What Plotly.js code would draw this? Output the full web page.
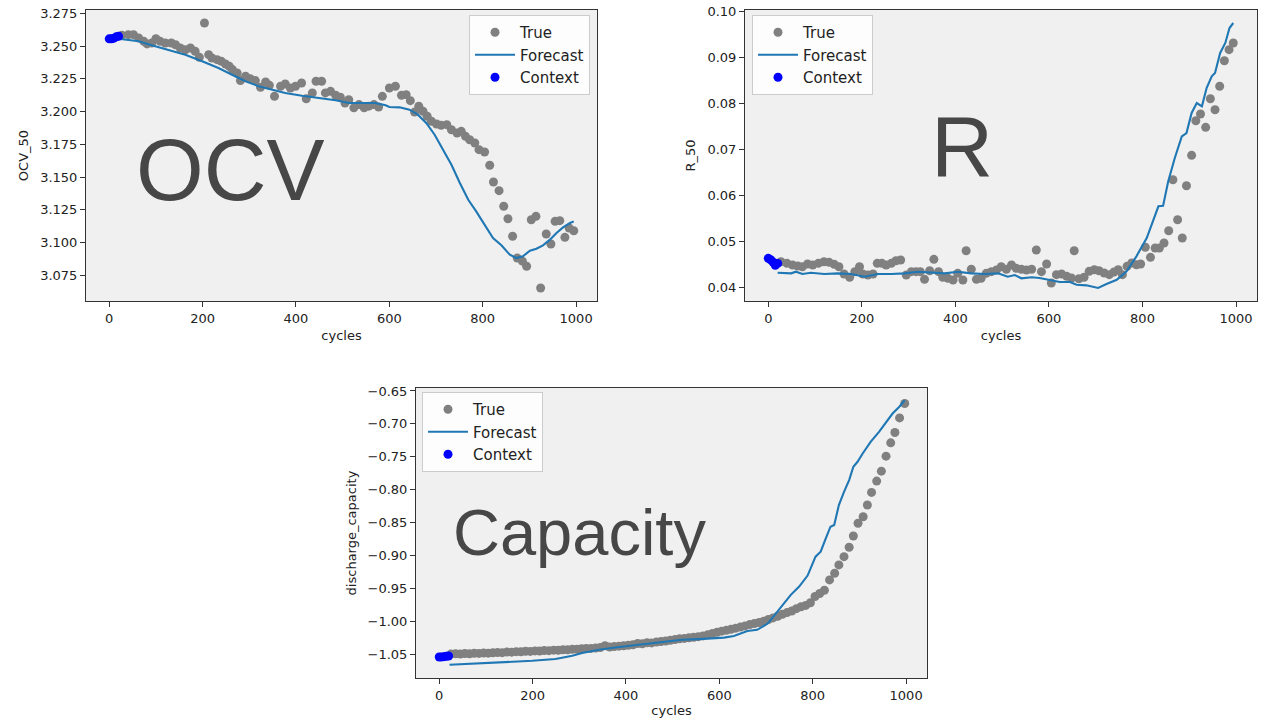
<!DOCTYPE html>
<html>
<head>
<meta charset="utf-8">
<script src="https://cdn.plot.ly/plotly-3.0.1.min.js"></script>
<style>html,body{margin:0;padding:0;background:#fff;}#chart{width:1266px;height:718px;}</style>
</head>
<body>
<div id="chart"></div>
<script>
// ---------- OCV ----------
const ocvTrueX = [27,41,52,63,74,81,91,100,109,120,133,142,152,163,174,184,193,204,213,220,231,240,249,257,264,274,281,292,302,313,324,335,343,354,367,377,388,399,412,422,435,443,455,463,474,485,495,505,513,524,535,546,556,567,577,585,600,613,626,636,645,654,663,672,681,690,701,711,723,733,745,754,763,772,783,792,804,815,823,835,845,854,864,874,885,894,904,914,924,936,946,955,965,976,985,995];
const ocvTrueY = [3.2582,3.2587,3.2587,3.2561,3.2536,3.2516,3.2523,3.2556,3.2536,3.2523,3.2523,3.2510,3.2485,3.2472,3.2485,3.2460,3.2414,3.2676,3.2434,3.2409,3.2396,3.2384,3.2363,3.2346,3.2320,3.2294,3.2236,3.2269,3.2251,3.2236,3.2185,3.2226,3.2200,3.2116,3.2193,3.2210,3.2180,3.2193,3.2218,3.2098,3.2142,3.2231,3.2231,3.2142,3.2154,3.2124,3.2109,3.2065,3.2090,3.2028,3.2053,3.2028,3.2041,3.2053,3.2035,3.2116,3.2180,3.2193,3.2124,3.2129,3.2083,3.1996,3.2041,3.2002,3.1964,3.1926,3.1905,3.1895,3.1900,3.1861,3.1836,3.1849,3.1811,3.1785,3.1760,3.1709,3.1691,3.1590,3.1462,3.1396,3.1277,3.1182,3.1048,3.0882,3.0858,3.0819,3.1174,3.1200,3.0653,3.1065,3.0989,3.1162,3.1167,3.1040,3.1111,3.1090];
const ocvFcX = [20,41,63,91,127,163,199,234,263,292,320,349,377,413,449,485,513,542,570,592,600,622,643,661,679,697,715,733,751,769,786,804,822,840,858,872,886,901,915,929,944,958,972,987,995];
const ocvFcY = [3.2556,3.2544,3.2536,3.2506,3.2472,3.2434,3.2384,3.2332,3.2281,3.2231,3.2193,3.2167,3.2142,3.2121,3.2103,3.2086,3.2065,3.2065,3.2065,3.2048,3.2035,3.2032,3.2014,3.1976,3.1913,3.1823,3.1709,3.1594,3.1455,3.1327,3.1238,3.1136,3.1035,3.0979,3.0907,3.0882,3.0895,3.0938,3.0953,3.0979,3.1022,3.1073,3.1116,3.1149,3.1162];
const ocvCtxX = [0,5,10,15,20];
const ocvCtxY = [3.2555,3.2555,3.2560,3.2570,3.2575];

// ---------- R ----------
const rTrueX = [27,40,52,63,73,84,95,107,119,130,141,151,162,174,185,195,202,213,224,233,243,252,263,273,283,295,306,316,325,334,345,354,364,373,384,395,405,416,423,434,445,455,466,477,488,498,509,520,530,541,552,563,573,584,595,605,616,627,638,648,654,664,675,686,697,707,718,729,739,748,757,767,777,787,796,806,817,827,836,846,856,865,875,885,894,905,914,924,935,945,955,965,975,985,994];
const rTrueY = [0.04557,0.04522,0.04485,0.04463,0.04448,0.04507,0.04485,0.04522,0.04557,0.04544,0.04500,0.04448,0.04289,0.04218,0.04340,0.04448,0.04289,0.04267,0.04289,0.04522,0.04522,0.04485,0.04522,0.04579,0.04594,0.04267,0.04340,0.04340,0.04340,0.04174,0.04361,0.04609,0.04340,0.04218,0.04196,0.04159,0.04304,0.04159,0.04797,0.04392,0.04174,0.04196,0.04304,0.04340,0.04376,0.04448,0.04392,0.04485,0.04413,0.04392,0.04376,0.04392,0.04812,0.04340,0.04507,0.04093,0.04275,0.04289,0.04239,0.04202,0.04797,0.04187,0.04218,0.04348,0.04383,0.04361,0.04311,0.04275,0.04333,0.04383,0.04275,0.04457,0.04529,0.04492,0.04507,0.04871,0.04653,0.04855,0.04855,0.04964,0.05232,0.06342,0.05471,0.05073,0.06212,0.06873,0.07627,0.07773,0.07483,0.08106,0.07866,0.08376,0.08933,0.09173,0.09319];
const rFcX = [20,49,59,73,91,120,148,177,206,234,263,291,320,348,377,405,434,463,491,512,527,541,563,580,602,623,645,659,680,705,723,745,766,787,809,823,834,844,855,869,884,894,905,916,927,937,948,955,966,977,986,994];
const rFcY = [0.04318,0.04304,0.04340,0.04289,0.04318,0.04289,0.04304,0.04289,0.04230,0.04289,0.04289,0.04304,0.04340,0.04318,0.04304,0.04340,0.04304,0.04289,0.04304,0.04230,0.04267,0.04196,0.04218,0.04202,0.04165,0.04116,0.04116,0.04056,0.04043,0.03985,0.04071,0.04165,0.04348,0.04674,0.05073,0.05437,0.05763,0.05776,0.06308,0.06815,0.07287,0.07359,0.07795,0.08012,0.07940,0.08339,0.08594,0.08665,0.09101,0.09319,0.09645,0.09754];
const rCtxX = [0,5,10,15,20];
const rCtxY = [0.0463,0.0460,0.0455,0.0448,0.0452];

// ---------- Capacity ----------
const capTrueX = [25,35,45,55,65,75,85,95,105,115,125,135,145,155,165,175,185,195,205,215,225,235,245,255,265,275,285,295,305,315,325,335,345,355,365,375,385,395,405,415,425,435,445,455,465,475,485,495,505,515,525,535,545,555,565,575,585,595,605,615,625,635,645,655,665,675,685,695,705,715,725,735,745,755,765,775,785,795,805,815,825,836,847,856,867,878,887,897,908,917,926,937,947,957,967,976,986,997];
const capTrueY = [-1.0500,-1.0496,-1.0499,-1.0492,-1.0495,-1.0488,-1.0490,-1.0484,-1.0486,-1.0480,-1.0478,-1.0479,-1.0470,-1.0471,-1.0464,-1.0466,-1.0458,-1.0460,-1.0452,-1.0454,-1.0446,-1.0448,-1.0441,-1.0442,-1.0434,-1.0436,-1.0427,-1.0428,-1.0420,-1.0416,-1.0414,-1.0408,-1.0400,-1.0372,-1.0392,-1.0386,-1.0380,-1.0374,-1.0366,-1.0358,-1.0340,-1.0345,-1.0328,-1.0330,-1.0318,-1.0310,-1.0302,-1.0290,-1.0280,-1.0268,-1.0262,-1.0252,-1.0244,-1.0236,-1.0224,-1.0208,-1.0188,-1.0168,-1.0152,-1.0138,-1.0122,-1.0106,-1.0090,-1.0072,-1.0052,-1.0036,-1.0020,-1.0000,-0.9975,-0.9950,-0.9925,-0.9895,-0.9870,-0.9845,-0.9810,-0.9780,-0.9760,-0.9720,-0.9625,-0.9580,-0.9530,-0.9373,-0.9271,-0.9145,-0.9019,-0.8876,-0.8705,-0.8512,-0.8412,-0.8234,-0.8042,-0.7870,-0.7719,-0.7491,-0.7289,-0.7131,-0.6910,-0.6691];
const capFcX = [22,56,127,199,249,285,306,342,377,413,449,485,520,556,585,610,631,660,681,703,717,735,753,771,789,806,817,828,838,846,856,867,878,887,896,907,924,942,957,971,985,997];
const capFcY = [-1.0663,-1.0652,-1.0627,-1.0602,-1.0576,-1.0526,-1.0485,-1.0435,-1.0400,-1.0370,-1.0333,-1.0309,-1.0283,-1.0273,-1.0262,-1.0250,-1.0225,-1.0150,-1.0131,-1.0040,-0.9920,-0.9752,-0.9600,-0.9474,-0.9307,-0.9019,-0.8943,-0.8740,-0.8564,-0.8538,-0.8234,-0.8033,-0.7855,-0.7653,-0.7577,-0.7450,-0.7274,-0.7122,-0.6970,-0.6843,-0.6743,-0.6641];
const capCtxX = [0,5,10,15,20];
const capCtxY = [-1.0545,-1.0543,-1.0540,-1.0535,-1.0530];

const xTicks = [0,200,400,600,800,1000];
const panelNames = ['OCV','R','Capacity'];
const yTitles = ['OCV_50','R_50','discharge_capacity'];

// ---------- styles ----------
const W = 1266, H = 718;
const GRAY = '#808080', BLUE_LINE = '#1f77b4', CTX = '#0000ff';
const sets = [
  [ocvTrueX, ocvTrueY, ocvFcX, ocvFcY, ocvCtxX, ocvCtxY],
  [rTrueX, rTrueY, rFcX, rFcY, rCtxX, rCtxY],
  [capTrueX, capTrueY, capFcX, capFcY, capCtxX, capCtxY]
];
const traces = [];
sets.forEach((s, i) => {
  const xa = i === 0 ? 'x' : 'x' + (i + 1);
  const ya = i === 0 ? 'y' : 'y' + (i + 1);
  const lg = i === 0 ? 'legend' : 'legend' + (i + 1);
  traces.push({x: s[0], y: s[1], type: 'scatter', mode: 'markers', name: 'True', xaxis: xa, yaxis: ya, legend: lg,
    marker: {color: GRAY, size: 9}});
  traces.push({x: s[2], y: s[3], type: 'scatter', mode: 'lines', name: 'Forecast', xaxis: xa, yaxis: ya, legend: lg,
    line: {color: BLUE_LINE, width: 2.1}});
  traces.push({x: s[4], y: s[5], type: 'scatter', mode: 'markers', name: 'Context', xaxis: xa, yaxis: ya, legend: lg,
    marker: {color: CTX, size: 9}});
});

function px2x(p) { return p / W; }
function px2y(p) { return 1 - p / H; }

const axBase = {
  showline: true, mirror: true, linecolor: '#333', linewidth: 1,
  ticks: 'outside', ticklen: 5, tickwidth: 1, tickcolor: '#333',
  showgrid: false, zeroline: false,
  tickfont: {family: 'DejaVu Sans', size: 13, color: '#222'}
};
function xax(d0, d1, anchor) {
  return Object.assign({}, axBase, {domain: [px2x(d0), px2x(d1)], anchor: anchor, range: [-49.75, 1044.75],
    tickvals: xTicks, ticktext: xTicks.map(String),
    title: {text: 'cycles', font: {family: 'DejaVu Sans', size: 13, color: '#222'}, standoff: 6}});
}
function yax(top, bot, anchor, range, dtick, tick0, fmt, title) {
  return Object.assign({}, axBase, {domain: [px2y(bot), px2y(top)], anchor: anchor, range: range,
    dtick: dtick, tick0: tick0, tickformat: fmt,
    title: {text: title, font: {family: 'DejaVu Sans', size: 13, color: '#222'}, standoff: 8}});
}
const legBase = {bgcolor: 'rgba(255,255,255,0.85)', bordercolor: '#cccccc', borderwidth: 1,
  font: {family: 'DejaVu Sans', size: 15, color: '#222'}, yanchor: 'top', tracegroupgap: 0, itemwidth: 40};

const bigFont = (s) => ({family: 'Liberation Sans, Arial, sans-serif', size: s, color: '#474747'});

const layout = {
  width: W, height: H,
  margin: {l: 0, r: 0, t: 0, b: 0},
  paper_bgcolor: '#ffffff', plot_bgcolor: '#f0f0f0',
  showlegend: true,
  font: {family: 'DejaVu Sans', size: 13, color: '#222'},
  xaxis: xax(86, 597, 'y'),
  yaxis: yax(10, 301, 'x', [3.0554, 3.2775], 0.025, 3.075, '.3f', yTitles[0]),
  xaxis2: xax(745, 1257, 'y2'),
  yaxis2: yax(10, 301, 'x2', [0.03702, 0.10037], 0.01, 0.04, '.2f', yTitles[1]),
  xaxis3: xax(416, 927, 'y3'),
  yaxis3: yax(388, 678, 'x3', [-1.0864, -0.6455], 0.05, -1.05, '.2f', yTitles[2]),
  legend: Object.assign({}, legBase, {x: px2x(590), xanchor: 'right', y: px2y(15)}),
  legend2: Object.assign({}, legBase, {x: px2x(752), xanchor: 'left', y: px2y(15)}),
  legend3: Object.assign({}, legBase, {x: px2x(422), xanchor: 'left', y: px2y(392)}),
  annotations: [
    {text: panelNames[0], xref: 'paper', yref: 'paper', x: px2x(230), y: px2y(169), xanchor: 'center', yanchor: 'middle', showarrow: false, font: bigFont(87)},
    {text: panelNames[1], xref: 'paper', yref: 'paper', x: px2x(962), y: px2y(146), xanchor: 'center', yanchor: 'middle', showarrow: false, font: bigFont(86)},
    {text: panelNames[2], xref: 'paper', yref: 'paper', x: px2x(579), y: px2y(532), xanchor: 'center', yanchor: 'middle', showarrow: false, font: bigFont(65)}
  ]
};

Plotly.newPlot('chart', traces, layout, {staticPlot: true, displayModeBar: false});
</script>
</body>
</html>
